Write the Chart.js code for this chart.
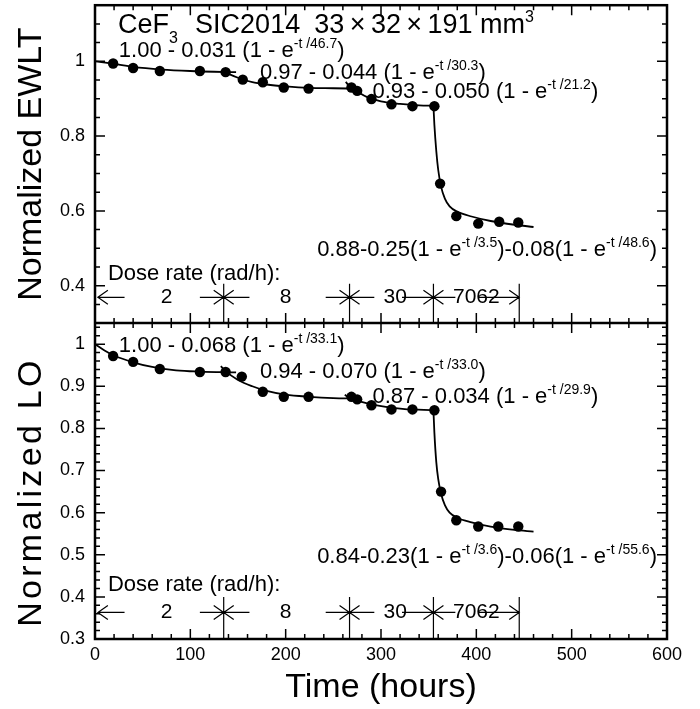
<!DOCTYPE html>
<html>
<head>
<meta charset="utf-8">
<script src="https://cdn.jsdelivr.net/npm/chart.js@4.4.1/dist/chart.umd.min.js"></script>
<style>
  html, body { margin: 0; padding: 0; background: #fff; }
</style>
</head>
<body>
<canvas id="canvas" width="700" height="709"></canvas>
<script>
// measured points, EWLT (top panel)
var ewltHours = [19, 40, 68, 110, 137, 155, 176, 198, 224, 269, 275, 290, 311, 333, 356, 362, 379, 402, 424, 444];
var ewltValues = [0.994, 0.982, 0.974, 0.974, 0.971, 0.951, 0.944, 0.930, 0.927, 0.930, 0.921, 0.899, 0.885, 0.880, 0.880, 0.673, 0.586, 0.566, 0.571, 0.569];

// measured points, LO (bottom panel)
var loHours = [19, 40, 68, 110, 137, 154, 176, 198, 224, 269, 275, 290, 311, 333, 356, 363, 379, 402, 423, 444];
var loValues = [0.972, 0.958, 0.941, 0.934, 0.934, 0.923, 0.887, 0.875, 0.875, 0.875, 0.869, 0.855, 0.845, 0.845, 0.843, 0.650, 0.582, 0.567, 0.567, 0.567];

// fitted curves (one per dose-rate step)
var ewltFitA = { t: [0, 20, 40, 70, 100, 125, 148], v: [1.000, 0.993, 0.985, 0.978, 0.974, 0.972, 0.971] };
var ewltFitB = { t: [137, 150, 165, 180, 200, 225, 250, 272], v: [0.970, 0.956, 0.944, 0.938, 0.933, 0.929, 0.928, 0.927] };
var ewltFitC = { t: [263, 268, 275, 285, 300, 320, 340, 356], v: [0.945, 0.930, 0.919, 0.905, 0.893, 0.886, 0.882, 0.881] };
var ewltFitD = { t: [355, 356, 358, 360, 363, 367, 372, 380, 395, 415, 440, 460], v: [0.881, 0.83, 0.76, 0.71, 0.665, 0.633, 0.612, 0.598, 0.585, 0.573, 0.563, 0.557] };

var loFitA = { t: [0, 10, 20, 40, 60, 85, 110, 148], v: [1.000, 0.985, 0.973, 0.957, 0.946, 0.938, 0.935, 0.933] };
var loFitB = { t: [132, 137, 150, 165, 180, 200, 225, 250, 272], v: [0.948, 0.936, 0.915, 0.900, 0.889, 0.880, 0.875, 0.872, 0.871] };
var loFitC = { t: [262, 268, 278, 290, 305, 325, 345, 356], v: [0.880, 0.870, 0.864, 0.857, 0.851, 0.846, 0.844, 0.843] };
var loFitD = { t: [355, 356, 358, 360, 363, 367, 372, 380, 395, 415, 440, 460], v: [0.843, 0.79, 0.72, 0.68, 0.645, 0.618, 0.600, 0.588, 0.577, 0.567, 0.559, 0.555] };

// dose rate steps (hours where the rate changes) and rates
var doseBounds = [135, 267, 355, 445];
var doseRates = ['2', '8', '30', '7062'];

// tick labels
var timeTicks = [0, 100, 200, 300, 400, 500, 600];
var ewltTicks = [0.4, 0.6, 0.8, 1];
var loTicks = [0.3, 0.4, 0.5, 0.6, 0.7, 0.8, 0.9, 1];

var FONT = "'Liberation Sans', Arial, Helvetica, sans-serif";
Chart.defaults.font.family = FONT;
Chart.defaults.color = '#000';

function pts(xs, ys) {
  return xs.map(function(x, i) { return { x: x, y: ys[i] }; });
}

function fitSet(f, axis) {
  return {
    data: pts(f.t, f.v), yAxisID: axis, showLine: true,
    borderColor: '#000', borderWidth: 1.8, pointRadius: 0,
    cubicInterpolationMode: 'monotone', fill: false
  };
}

function dotSet(xs, ys, axis) {
  return {
    data: pts(xs, ys), yAxisID: axis, showLine: false,
    pointRadius: 5.2, pointBackgroundColor: '#000', pointBorderColor: '#000', pointBorderWidth: 0
  };
}

function setTicks(arr) {
  return function(scale) { scale.ticks = arr.map(function(v) { return { value: v }; }); };
}

function noPad(s) { s.paddingTop = 0; s.paddingBottom = 0; }

function fmt(v) { return String(+v.toFixed(2)); }

// text with sub/superscripts; parts = [text, size, dy]
function rich(ctx, x, y, parts) {
  ctx.textBaseline = 'alphabetic';
  ctx.textAlign = 'left';
  parts.forEach(function(p) {
    ctx.font = p[1] + 'px ' + FONT;
    ctx.fillText(p[0], x, y + (p[2] || 0));
    x += ctx.measureText(p[0]).width;
  });
}

function eq(a, b) {
  return [[a, 22, 0], [b, 14, -9], [')', 22, 0]];
}

function vtext(ctx, txt, x, y, size, spacing) {
  ctx.save();
  ctx.translate(x, y);
  ctx.rotate(-Math.PI / 2);
  ctx.font = size + 'px ' + FONT;
  ctx.letterSpacing = spacing + 'px';
  ctx.textAlign = 'center';
  ctx.textBaseline = 'middle';
  ctx.fillText(txt, spacing / 2, 0);
  ctx.restore();
}

var frame = {
  id: 'frame',
  afterDatasetsDraw: function(chart) {
    var ctx = chart.ctx, a = chart.chartArea;
    var x = chart.scales.x, yt = chart.scales.yTop, yb = chart.scales.yBot;
    var mid = yt.bottom, i, v, p, len;
    ctx.save();
    ctx.strokeStyle = '#000';
    ctx.lineWidth = 1.5;
    ctx.beginPath();
    for (i = 0; i <= 30; i++) {
      p = x.getPixelForValue(i * 20);
      len = i % 5 === 0 ? 10 : 5;
      ctx.moveTo(p, a.bottom); ctx.lineTo(p, a.bottom - len);
      ctx.moveTo(p, a.top); ctx.lineTo(p, a.top + len);
      ctx.moveTo(p, mid - len); ctx.lineTo(p, mid + len);
    }
    for (i = 1; i <= 16; i++) {
      v = 0.3 + i * 0.05;
      p = yt.getPixelForValue(v);
      len = i % 4 === 2 ? 10 : 5;
      ctx.moveTo(a.left, p); ctx.lineTo(a.left + len, p);
      ctx.moveTo(a.right, p); ctx.lineTo(a.right - len, p);
    }
    for (i = 1; i <= 37; i++) {
      v = 0.3 + i * 0.02;
      p = yb.getPixelForValue(v);
      len = i % 5 === 0 ? 10 : 5;
      ctx.moveTo(a.left, p); ctx.lineTo(a.left + len, p);
      ctx.moveTo(a.right, p); ctx.lineTo(a.right - len, p);
    }
    ctx.stroke();
    ctx.lineWidth = 2.5;
    ctx.strokeRect(a.left, a.top, a.right - a.left, a.bottom - a.top);
    ctx.beginPath();
    ctx.moveTo(a.left, mid); ctx.lineTo(a.right, mid);
    ctx.stroke();
    ctx.restore();
  }
};

var notes = {
  id: 'notes',
  afterDraw: function(chart) {
    var ctx = chart.ctx, x = chart.scales.x, yt = chart.scales.yTop, yb = chart.scales.yBot;
    function X(t) { return x.getPixelForValue(t); }
    ctx.save();
    ctx.fillStyle = '#000';

    // y axis titles
    vtext(ctx, 'Normalized EWLT', 32, (yt.top + yt.bottom) / 2, 34, 0);
    vtext(ctx, 'Normalized LO', 32, yb.getPixelForValue(0.645), 34, 3.3);

    // title
    var ty = yt.getPixelForValue(1.099) + 9;
    rich(ctx, X(24), ty, [['CeF', 27, 0], ['3', 16, 10]]);
    rich(ctx, X(105), ty, [['SIC2014', 27, 0]]);
    rich(ctx, X(230), ty, [['33\u2009\u00d7\u200932\u2009\u00d7\u2009191 mm', 27, 0], ['3', 16, -11]]);

    // fit formulas, top
    rich(ctx, X(25), yt.getPixelForValue(1.032) + 8, eq('1.00 - 0.031 (1 - e', '-t /46.7'));
    rich(ctx, X(173), yt.getPixelForValue(0.974) + 8, eq('0.97 - 0.044 (1 - e', '-t /30.3'));
    rich(ctx, X(291), yt.getPixelForValue(0.923) + 8, eq('0.93 - 0.050 (1 - e', '-t /21.2'));
    rich(ctx, X(233), yt.getPixelForValue(0.500) + 8,
      [['0.88-0.25(1 - e', 22, 0], ['-t /3.5', 14, -9], [')-0.08(1 - e', 22, 0], ['-t /48.6', 14, -9], [')', 22, 0]]);

    // fit formulas, bottom
    rich(ctx, X(25), yb.getPixelForValue(1.0) + 8, eq('1.00 - 0.068 (1 - e', '-t /33.1'));
    rich(ctx, X(173), yb.getPixelForValue(0.938) + 8, eq('0.94 - 0.070 (1 - e', '-t /33.0'));
    rich(ctx, X(291), yb.getPixelForValue(0.879) + 8, eq('0.87 - 0.034 (1 - e', '-t /29.9'));
    rich(ctx, X(233), yb.getPixelForValue(0.499) + 8,
      [['0.84-0.23(1 - e', 22, 0], ['-t /3.6', 14, -9], [')-0.06(1 - e', 22, 0], ['-t /55.6', 14, -9], [')', 22, 0]]);

    // dose rate bars
    [[yt, 0.436, 0.369, 0.405], [yb, 0.433, 0.363, 0.40]].forEach(function(row) {
      var s = row[0];
      var yr = s.getPixelForValue(row[2]);
      rich(ctx, X(13.6), s.getPixelForValue(row[1]) + 8, [['Dose rate (rad/h):', 22, 0]]);
      ctx.strokeStyle = '#000';
      ctx.lineWidth = 1.2;
      ctx.beginPath();
      doseBounds.forEach(function(b) {
        ctx.moveTo(X(b), s.getPixelForValue(row[3]));
        ctx.lineTo(X(b), s.getPixelForValue(0.3));
      });
      var arrows = [[3, 31, -1], [110, 135, 1], [135, 162, -1], [242, 267, 1], [267, 293, -1], [322, 355, 1], [355, 378, -1], [402, 445, 1]];
      arrows.forEach(function(ar) {
        var x1 = X(ar[0]), x2 = X(ar[1]);
        ctx.moveTo(x1, yr); ctx.lineTo(x2, yr);
        var tip = ar[2] > 0 ? x2 : x1, back = ar[2] > 0 ? -10 : 10;
        ctx.moveTo(tip + back, yr - 7); ctx.lineTo(tip, yr); ctx.lineTo(tip + back, yr + 7);
      });
      ctx.stroke();
      var at = [75, 200, 315, 400];
      ctx.font = '21px ' + FONT;
      ctx.textAlign = 'center';
      ctx.textBaseline = 'middle';
      doseRates.forEach(function(r, i) { ctx.fillText(r, X(at[i]), yr); });
    });
    ctx.restore();
  }
};

new Chart(document.getElementById('canvas'), {
  type: 'scatter',
  data: {
    datasets: [
      fitSet(ewltFitA, 'yTop'), fitSet(ewltFitB, 'yTop'), fitSet(ewltFitC, 'yTop'), fitSet(ewltFitD, 'yTop'),
      dotSet(ewltHours, ewltValues, 'yTop'),
      fitSet(loFitA, 'yBot'), fitSet(loFitB, 'yBot'), fitSet(loFitC, 'yBot'), fitSet(loFitD, 'yBot'),
      dotSet(loHours, loValues, 'yBot')
    ]
  },
  options: {
    responsive: false,
    animation: false,
    devicePixelRatio: 1,
    layout: { padding: { top: 5, right: 33, left: 0, bottom: 0 } },
    plugins: { legend: { display: false }, tooltip: { enabled: false } },
    scales: {
      x: {
        type: 'linear', position: 'bottom', min: 0, max: 600,
        afterBuildTicks: setTicks(timeTicks),
        ticks: { font: { size: 18 }, color: '#000', padding: 5, maxRotation: 0 },
        grid: { display: false, drawTicks: false },
        border: { display: false },
        title: { display: true, text: 'Time (hours)', font: { size: 34 }, color: '#000', padding: { top: 0, bottom: 1 } },
        afterFit: function(s) { s.height = 70; }
      },
      yTop: {
        type: 'linear', position: 'left', stack: 'panels', stackWeight: 318, weight: 1,
        min: 0.3, max: 1.15,
        afterBuildTicks: setTicks(ewltTicks),
        ticks: { font: { size: 18 }, color: '#000', padding: 10, callback: fmt },
        grid: { display: false, drawTicks: false },
        border: { display: false },
        afterFit: function(s) { s.width = 95; noPad(s); }
      },
      yBot: {
        type: 'linear', position: 'left', stack: 'panels', stackWeight: 316, weight: 0,
        min: 0.3, max: 1.05,
        afterBuildTicks: setTicks(loTicks),
        ticks: { font: { size: 18 }, color: '#000', padding: 10, callback: fmt },
        grid: { display: false, drawTicks: false },
        border: { display: false },
        afterFit: function(s) { s.width = 95; noPad(s); }
      }
    }
  },
  plugins: [frame, notes]
});
</script>
</body>
</html>
